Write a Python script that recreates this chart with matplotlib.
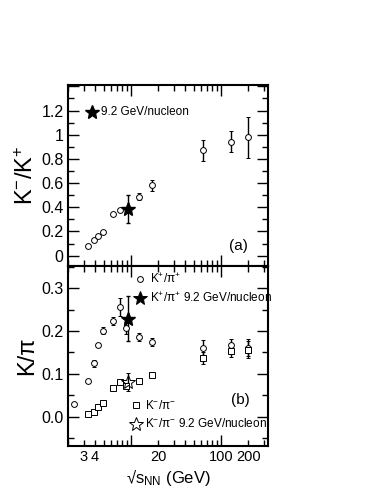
import numpy as np
import matplotlib.pyplot as plt
from matplotlib.ticker import LogLocator, FuncFormatter, MultipleLocator

plt.rcParams['font.family'] = ['Liberation Sans', 'DejaVu Sans']
plt.rcParams['mathtext.fontset'] = 'custom'
plt.rcParams['mathtext.rm'] = 'Liberation Sans'
plt.rcParams['mathtext.it'] = 'Liberation Sans:italic'
plt.rcParams['mathtext.sf'] = 'Liberation Sans'

# K-/K+ (top panel)
kk_energy = [3.32, 3.86, 4.3, 4.86, 6.27, 7.62, 12.3, 17.3, 62.4, 130, 200]
kk_ratio = [0.083, 0.128, 0.164, 0.195, 0.345, 0.375, 0.487, 0.58, 0.87, 0.94, 0.98]
kk_err = [0.004, 0.005, 0.005, 0.006, 0.01, 0.01, 0.03, 0.045, 0.09, 0.087, 0.17]
star_kk = 0.386
star_kk_err = 0.115

# K+/pi+ (bottom panel)
kp_energy = [2.37, 3.32, 3.86, 4.3, 4.86, 6.27, 7.62, 8.76, 12.3, 17.3, 62.4, 130, 200]
kp_ratio = [0.03, 0.084, 0.125, 0.168, 0.201, 0.224, 0.256, 0.208, 0.186, 0.174, 0.161, 0.167, 0.161]
kp_err = [0.002, 0.003, 0.008, 0.004, 0.009, 0.009, 0.022, 0.014, 0.01, 0.01, 0.017, 0.014, 0.02]
star_kp = 0.229
star_kp_err = 0.052

# K-/pi- (bottom panel)
km_energy = [3.32, 3.86, 4.3, 4.86, 6.27, 7.62, 8.76, 12.3, 17.3, 62.4, 130, 200]
km_ratio = [0.005, 0.011, 0.022, 0.031, 0.066, 0.081, 0.071, 0.084, 0.097, 0.138, 0.154, 0.156]
km_err = [0.001, 0.001, 0.002, 0.002, 0.003, 0.004, 0.005, 0.004, 0.005, 0.014, 0.015, 0.02]
star_km = 0.080
star_km_err = 0.021

star_energy = 9.2
label_vals = {3: '3', 4: '4', 20: '20', 100: '100', 200: '200'}


def xfmt(v, pos):
    for k, s in label_vals.items():
        if abs(v - k) < 1e-6 * k:
            return s
    return ''


def style_axes(ax):
    ax.set_xscale('log')
    ax.set_xlim(2.0, 335)
    ax.xaxis.set_major_locator(LogLocator(base=10))
    ax.xaxis.set_minor_locator(LogLocator(base=10, subs=np.arange(2, 10)))
    ax.xaxis.set_major_formatter(FuncFormatter(xfmt))
    ax.xaxis.set_minor_formatter(FuncFormatter(xfmt))
    ax.tick_params(which='both', direction='in', top=True, right=True,
                   width=1.0, pad=3)
    ax.tick_params(axis='x', which='both', labelsize=10.5)
    ax.tick_params(axis='y', which='both', labelsize=11.5)
    ax.tick_params(which='major', length=8)
    ax.tick_params(which='minor', length=4.5)
    for sp in ax.spines.values():
        sp.set_linewidth(1.5)


fig = plt.figure(figsize=(3.83, 4.95), dpi=100)
ax1 = fig.add_axes([0.177, 0.4626, 0.524, 0.3654])
ax2 = fig.add_axes([0.177, 0.0996, 0.524, 0.3630])

ms = 4.2
circ = dict(marker='o', ms=ms, mfc='white', mec='black', mew=0.7,
            ls='none', ecolor='black', elinewidth=1.0, capsize=1.3, capthick=1.0)
sq = dict(circ, marker='s')

# top panel
style_axes(ax1)
ax1.errorbar(kk_energy, kk_ratio, yerr=kk_err, **circ)
ax1.errorbar([star_energy], [star_kk], yerr=[star_kk_err], marker='*', ms=10,
             mfc='black', mec='black', ls='none', ecolor='black', elinewidth=1.0,
             capsize=1.3)
ax1.set_ylim(-0.086, 1.41)
ax1.yaxis.set_major_locator(MultipleLocator(0.2))
ax1.yaxis.set_minor_locator(MultipleLocator(0.1))
ax1.yaxis.set_major_formatter(
    FuncFormatter(lambda v, p: '' if v > 1.3 else '%g' % round(v, 2)))
ax1.tick_params(axis='x', labelbottom=False)
ax1.set_ylabel('K$^{-}$/K$^{+}$', fontsize=17, labelpad=2)
ax1.plot([0.12], [0.852], marker='*', ms=10, color='black',
         transform=ax1.transAxes, clip_on=False)
ax1.text(0.165, 0.852, '9.2 GeV/nucleon', transform=ax1.transAxes,
         fontsize=8.5, va='center')
ax1.text(0.85, 0.112, '(a)', transform=ax1.transAxes, fontsize=11,
         ha='center', va='center')

# bottom panel
style_axes(ax2)
ax2.errorbar(kp_energy, kp_ratio, yerr=kp_err, **circ)
ax2.errorbar(km_energy, km_ratio, yerr=km_err, **sq)
ax2.errorbar([star_energy], [star_kp], yerr=[star_kp_err], marker='*', ms=10,
             mfc='black', mec='black', ls='none', ecolor='black', elinewidth=1.0,
             capsize=1.3)
ax2.errorbar([star_energy], [star_km], yerr=[star_km_err], marker='*', ms=10,
             mfc='none', mec='black', mew=0.7, ls='none', ecolor='black',
             elinewidth=1.0, capsize=1.3)
ax2.set_ylim(-0.068, 0.352)
ax2.yaxis.set_major_locator(MultipleLocator(0.1))
ax2.yaxis.set_minor_locator(MultipleLocator(0.05))
ax2.yaxis.set_major_formatter(FuncFormatter(lambda v, p: '%.1f' % (v + 0.0)))
ax2.set_ylabel('K/\u03c0', fontsize=17, labelpad=2)
ax2.set_xlabel('\u221a$\\mathregular{s_{NN}}$ (GeV)', fontsize=12, labelpad=2)

leg = [
    (0.36, 0.928, 'o', 'white', 'K$^{+}$/\u03c0$^{+}$', 0.41, ms),
    (0.36, 0.824, '*', 'black', 'K$^{+}$/\u03c0$^{+}$ 9.2 GeV/nucleon', 0.41, 10),
    (0.34, 0.226, 's', 'white', 'K$^{-}$/\u03c0$^{-}$', 0.385, ms),
    (0.34, 0.121, '*', 'none', 'K$^{-}$/\u03c0$^{-}$ 9.2 GeV/nucleon', 0.385, 10),
]
for mx, my, mk, fc, txt, tx, msz in leg:
    ax2.plot([mx], [my], marker=mk, ms=msz, mfc=fc, mec='black', mew=0.7,
             transform=ax2.transAxes, clip_on=False)
    ax2.text(tx, my, txt, transform=ax2.transAxes, fontsize=8.5, va='center',
             clip_on=False)
ax2.text(0.86, 0.254, '(b)', transform=ax2.transAxes, fontsize=11,
         ha='center', va='center')

fig.savefig('out.png', dpi=100)
